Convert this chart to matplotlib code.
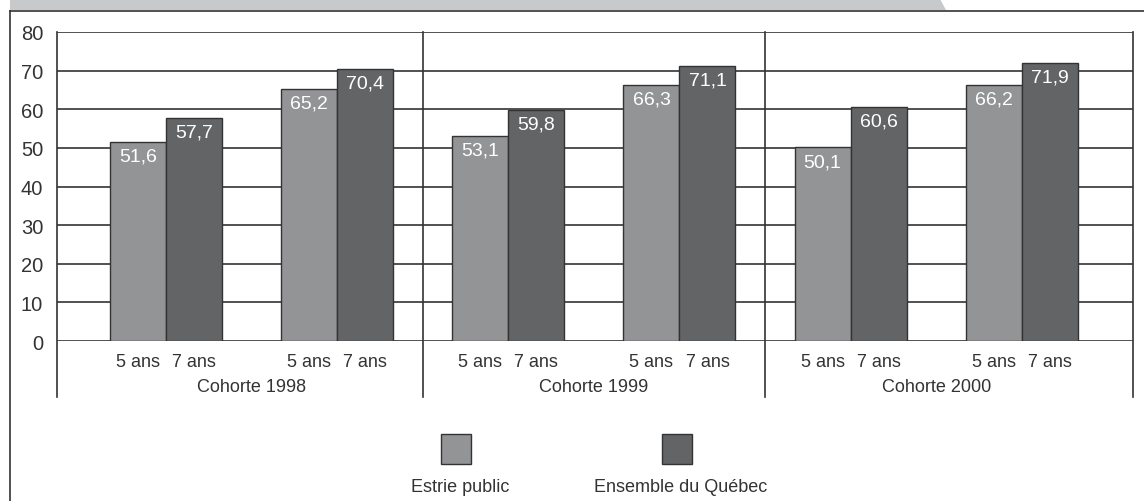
import matplotlib
matplotlib.use("Agg")
import matplotlib.pyplot as plt
from matplotlib.patches import Rectangle, Polygon
from matplotlib.lines import Line2D
import numpy as np

plt.rcParams["font.family"] = ["Liberation Sans", "DejaVu Sans"]

# data
cohorts = ["Cohorte 1998", "Cohorte 1999", "Cohorte 2000"]
series = ["Estrie public", "Ensemble du Québec"]
bar_labels = ["5 ans", "7 ans"]
estrie = [51.6, 65.2, 53.1, 66.3, 50.1, 66.2]
quebec = [57.7, 70.4, 59.8, 71.1, 60.6, 71.9]
yticks = [0, 10, 20, 30, 40, 50, 60, 70, 80]

LIGHT = "#939496"
DARK = "#636466"
EDGE = "#333333"
TXT = "#333333"

W, H = 1144, 502
fig = plt.figure(figsize=(W / 100, H / 100), dpi=100)

# top band and outer frame
band = Polygon([(10 / W, 1), (940 / W, 1), (946 / W, 1 - 11 / H), (10 / W, 1 - 11 / H)],
               closed=True, transform=fig.transFigure, facecolor="#c8c9cb", edgecolor="none")
fig.add_artist(band)
fig.add_artist(Line2D([10 / W, 1], [1 - 11.5 / H] * 2, transform=fig.transFigure, color=EDGE, lw=1.2))
fig.add_artist(Line2D([10 / W] * 2, [0, 1 - 11.5 / H], transform=fig.transFigure, color=EDGE, lw=1.2))

ax = fig.add_axes([57 / W, (H - 342) / H, 1076 / W, 309 / H])
x = np.arange(len(estrie))
bw = 0.327
ax.set_xlim(-0.637, 5.65)
ax.set_ylim(0, 80)

for y in yticks:
    ax.axhline(y, color=EDGE, lw=1.2, zorder=1)

b1 = ax.bar(x - bw / 2, estrie, bw, color=LIGHT, edgecolor=EDGE, lw=1, zorder=2)
b2 = ax.bar(x + bw / 2, quebec, bw, color=DARK, edgecolor=EDGE, lw=1, zorder=2)

for bars, vals in ((b1, estrie), (b2, quebec)):
    for r, v in zip(bars, vals):
        ax.annotate(f"{v:.1f}".replace(".", ","), (r.get_x() + r.get_width() / 2, v),
                    xytext=(0, -4), textcoords="offset points", ha="center", va="top",
                    color="white", fontsize=14, zorder=3)

for s in ax.spines.values():
    s.set_visible(False)

ybot = -(398 - 342) / 309 * 80
for xv in [-0.637, 1.5, 3.5, 5.65]:
    ax.plot([xv, xv], [ybot, 80], color=EDGE, lw=1.2, clip_on=False, zorder=1)

ax.set_yticks(yticks)
ax.set_yticklabels([str(t) for t in yticks], fontsize=14.5, color=TXT)
ax.tick_params(axis="y", length=0, pad=10)
ax.set_xticks([])

trans = ax.get_xaxis_transform()
for xi in x:
    ax.text(xi - bw / 2, -0.065, bar_labels[0], transform=trans, ha="center", va="center",
            fontsize=13, color=TXT)
    ax.text(xi + bw / 2, -0.065, bar_labels[1], transform=trans, ha="center", va="center",
            fontsize=13, color=TXT)
for i, c in enumerate(cohorts):
    ax.text(2 * i + 0.5, -0.146, c, transform=trans, ha="center", va="center",
            fontsize=13, color=TXT)

# legend drawn by hand: swatch above the label
for cx, name, col in ((456, series[0], LIGHT), (677, series[1], DARK)):
    fig.add_artist(Rectangle(((cx - 15) / W, (H - 465) / H), 30 / W, 30 / H,
                             transform=fig.transFigure, facecolor=col, edgecolor=EDGE, lw=1))
    fig.text((cx + 4) / W, (H - 488) / H, name, ha="center", va="center", fontsize=13, color=TXT)

fig.savefig("out.png", dpi=100)
